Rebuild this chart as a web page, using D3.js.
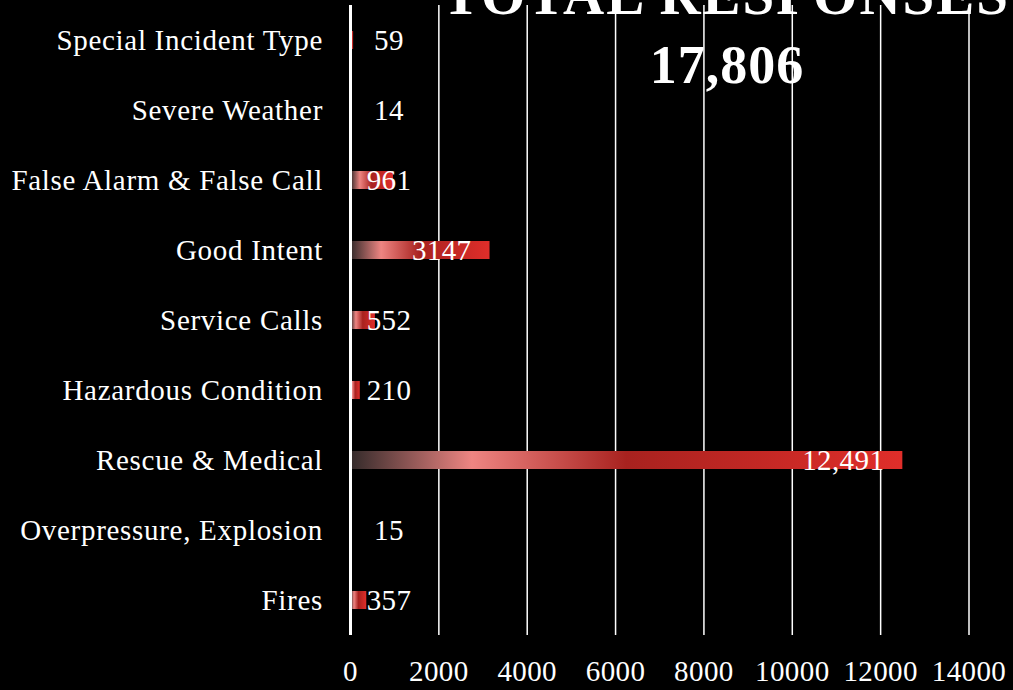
<!DOCTYPE html>
<html>
<head>
<meta charset="utf-8">
<script src="https://cdn.jsdelivr.net/npm/d3@7"></script>
<style>
  html, body { margin: 0; padding: 0; background: #000; }
  svg { display: block; }
  text { font-family: "Liberation Serif", "DejaVu Serif", serif; fill: #fff; }
</style>
</head>
<body>
<div id="chart"></div>
<script>
// Data, top to bottom as shown
const categories = ['Special Incident Type', 'Severe Weather', 'False Alarm & False Call', 'Good Intent',
  'Service Calls', 'Hazardous Condition', 'Rescue & Medical', 'Overpressure, Explosion', 'Fires'];
const values = [59, 14, 961, 3147, 552, 210, 12491, 15, 357];
const valueLabels = ['59', '14', '961', '3147', '552', '210', '12,491', '15', '357'];
const xTicks = [0, 2000, 4000, 6000, 8000, 10000, 12000, 14000];
const titleLines = ['TOTAL RESPONSES', '17,806'];

const W = 1013, H = 690;
const svg = d3.select('#chart').append('svg').attr('width', W).attr('height', H);

const x = d3.scaleLinear().domain([0, 14000]).range([350.5, 969]);
const y = d3.scaleBand().domain(categories).range([5, 635]);
const barH = 18;

// bar gradient
const grad = svg.append('defs').append('linearGradient')
  .attr('id', 'barGrad').attr('x1', 0).attr('x2', 1).attr('y1', 0).attr('y2', 0);
[[0, '#332a2a'], [0.22, '#ee8582'], [0.5, '#a8221f'], [1, '#e02e2a']].forEach(s => {
  grad.append('stop').attr('offset', s[0]).attr('stop-color', s[1]);
});

// grid lines
svg.append('g').selectAll('line')
  .data(xTicks.slice(1))
  .enter().append('line')
  .attr('x1', d => x(d)).attr('x2', d => x(d))
  .attr('y1', 5).attr('y2', 635)
  .attr('stroke', '#fff').attr('stroke-width', 1.5);

// bars
svg.append('g').selectAll('rect')
  .data(values)
  .enter().append('rect')
  .attr('x', x(0))
  .attr('y', (d, i) => y(categories[i]) + y.bandwidth() / 2 - barH / 2)
  .attr('width', d => x(d) - x(0))
  .attr('height', barH)
  .attr('fill', 'url(#barGrad)');

// zero line
svg.append('line')
  .attr('x1', x(0)).attr('x2', x(0))
  .attr('y1', 5).attr('y2', 635)
  .attr('stroke', '#fff').attr('stroke-width', 3);

// category labels
svg.append('g').selectAll('text')
  .data(categories)
  .enter().append('text')
  .attr('x', 323)
  .attr('y', d => y(d) + y.bandwidth() / 2)
  .attr('dy', '0.35em')
  .attr('text-anchor', 'end')
  .style('font-size', '29px')
  .style('letter-spacing', '0.7px')
  .text(d => d);

// value labels
svg.append('g').selectAll('text')
  .data(values)
  .enter().append('text')
  .attr('x', d => d > 2000 ? x(d) - 18 : 389)
  .attr('y', (d, i) => y(categories[i]) + y.bandwidth() / 2)
  .attr('dy', '0.35em')
  .attr('text-anchor', d => d > 2000 ? 'end' : 'middle')
  .style('font-size', '29px')
  .style('letter-spacing', '0.4px')
  .text((d, i) => valueLabels[i]);

// x axis labels
svg.append('g').selectAll('text')
  .data(xTicks)
  .enter().append('text')
  .attr('x', d => x(d))
  .attr('y', 681)
  .attr('text-anchor', 'middle')
  .style('font-size', '29px')
  .style('letter-spacing', '0.4px')
  .text(d => d);

// title
svg.append('text')
  .attr('x', 726).attr('y', 14)
  .attr('text-anchor', 'middle')
  .style('font-size', '57px').style('font-weight', 'bold')
  .style('letter-spacing', '2px')
  .text(titleLines[0]);
svg.append('text')
  .attr('x', 727).attr('y', 83)
  .attr('text-anchor', 'middle')
  .style('font-size', '54px').style('font-weight', 'bold')
  .style('letter-spacing', '1px')
  .text(titleLines[1]);
</script>
</body>
</html>
